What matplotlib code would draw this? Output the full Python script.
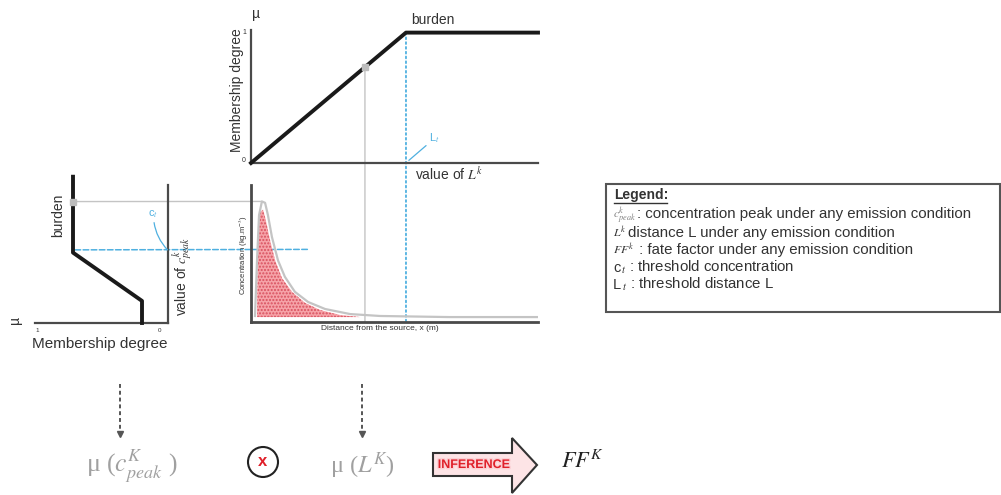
import matplotlib
matplotlib.use("Agg")
import matplotlib.pyplot as plt
import matplotlib.patheffects as pe
from matplotlib.patches import ConnectionPatch, Rectangle, Circle, Polygon

plt.rcParams['font.family'] = ['Liberation Sans', 'DejaVu Sans']
plt.rcParams['mathtext.fontset'] = 'stix'

W, H = 1001, 495

# membership of distance L^k (top chart): x = distance, y = mu
top_x = [0.0, 0.54, 1.0]
top_mu = [0.0, 1.0, 1.0]

# membership of c^k_peak (left chart): x = mu (reversed axis), y = concentration
left_mu = [0.144, 0.144, 0.696, 0.696]
left_c = [0.0, 0.16, 0.51, 1.06]

# concentration vs distance (middle chart)
env_x = [0.014, 0.021, 0.028, 0.038, 0.049, 0.059, 0.073, 0.094, 0.118, 0.153,
         0.199, 0.258, 0.345, 0.449, 0.69, 1.0]
env_c = [0.044, 0.45, 0.78, 0.88, 0.87, 0.78, 0.62, 0.45, 0.33, 0.22,
         0.146, 0.095, 0.058, 0.044, 0.036, 0.036]
fill_x = [0.021, 0.024, 0.031, 0.042, 0.052, 0.066, 0.084, 0.108, 0.143, 0.188,
          0.24, 0.31, 0.38]
fill_c = [0.036, 0.60, 0.80, 0.82, 0.74, 0.60, 0.45, 0.32, 0.22, 0.14,
          0.088, 0.051, 0.036]

L_k, L_t = 0.397, 0.54
c_peak, c_t = 0.88, 0.53
mu_Lk = 0.735

legend_sym = [r'$c^{k}_{peak}$', r'$L^{k}$', r'$FF^{k}$', 'c', 'L']
legend_txt = [': concentration peak under any emission condition',
              'distance L under any emission condition',
              ' : fate factor under any emission condition',
              r'$_{t}$ : threshold concentration',
              r'$_{t}$ : threshold distance L']

fig = plt.figure(figsize=(W / 100, H / 100), dpi=100)
bg = fig.add_axes([0, 0, 1, 1])
bg.set_xlim(0, W)
bg.set_ylim(H, 0)
bg.axis('off')
bg.patch.set_alpha(0)


def px_axes(x0, y0, x1, y1):
    a = fig.add_axes([x0 / W, 1 - y1 / H, (x1 - x0) / W, (y1 - y0) / H])
    a.patch.set_alpha(0)
    a.set_xticks([])
    a.set_yticks([])
    for s in a.spines.values():
        s.set_visible(False)
    return a


axis_col = '#4a4a4a'
blue = '#4fb0e0'
grey = '#c4c4c4'

# top chart
ax_top = px_axes(251, 30, 538, 163)
ax_top.set_xlim(0, 1)
ax_top.set_ylim(0, 1.02)
for s in ('left', 'bottom'):
    ax_top.spines[s].set_visible(True)
    ax_top.spines[s].set_color(axis_col)
    ax_top.spines[s].set_linewidth(1.6)
ax_top.plot(top_x, top_mu, color='#1a1a1a', lw=2.8, zorder=3, clip_on=False)
ax_top.plot([L_k], [mu_Lk], marker='s', ms=5, color='#bdbdbd', zorder=4)

# middle chart
ax_mid = px_axes(251, 185, 538, 322)
ax_mid.set_xlim(0, 1)
ax_mid.set_ylim(0, 1)
for s in ('left', 'bottom'):
    ax_mid.spines[s].set_visible(True)
    ax_mid.spines[s].set_color(axis_col)
    ax_mid.spines[s].set_linewidth(2)
ax_mid.fill_between(fill_x, fill_c, 0.036, facecolor='#f6a3a8', edgecolor='#d8505e',
                    hatch='.....', linewidth=0, zorder=2)
ax_mid.plot(env_x, env_c, color=grey, lw=1.6, zorder=3)

# left chart
ax_left = px_axes(35, 185, 168, 323)
ax_left.set_xlim(1, -0.064)
ax_left.set_ylim(0, 1.0)
for s in ('right', 'bottom'):
    ax_left.spines[s].set_visible(True)
    ax_left.spines[s].set_color(axis_col)
    ax_left.spines[s].set_linewidth(1.6)
ax_left.plot(left_mu, left_c, color='#1a1a1a', lw=2.8, zorder=3, clip_on=False)
ax_left.plot([0.696], [c_peak], marker='s', ms=5, color='#bdbdbd', zorder=4)

# connectors between charts
conns = [
    dict(xyA=(L_k, mu_Lk), axA=ax_top, xyB=(L_k, 0), axB=ax_mid, color=grey, ls='-', lw=1.0),
    dict(xyA=(L_t, 1), axA=ax_top, xyB=(L_t, 0), axB=ax_mid, color=blue, ls=':', lw=1.3),
    dict(xyA=(0.696, c_peak), axA=ax_left, xyB=(0.038, c_peak), axB=ax_mid, color=grey, ls='-', lw=1.0),
    dict(xyA=(0.68, c_t), axA=ax_left, xyB=(0.2, c_t), axB=ax_mid, color=blue, ls='--', lw=1.1),
]
for c in conns:
    cp = ConnectionPatch(xyA=c['xyA'], coordsA=c['axA'].transData,
                         xyB=c['xyB'], coordsB=c['axB'].transData,
                         color=c['color'], ls=c['ls'], lw=c['lw'], zorder=-1)
    fig.add_artist(cp)

# labels, top chart
tc = '#333333'
bg.text(256, 14, 'µ', fontsize=10, color=tc, ha='center', va='center')
bg.text(237, 90, 'Membership degree', fontsize=10, color=tc, rotation=90, ha='center', va='center')
bg.text(244, 32, '1', fontsize=5, color=tc, ha='center', va='center')
bg.text(244, 160, '0', fontsize=5, color=tc, ha='center', va='center')
bg.text(433, 20, 'burden', fontsize=10, color=tc, ha='center', va='center')
bg.text(415, 174, r'value of $L^{k}$', fontsize=10, color=tc, ha='left', va='center')
ax_top.annotate(r'L$_t$', xy=(L_t + 0.01, 0.02), xytext=(20, 15), textcoords='offset pixels',
                color=blue, fontsize=8, ha='left', va='bottom',
                arrowprops=dict(arrowstyle='-', color=blue, lw=0.9, shrinkA=0, shrinkB=0))

# labels, left chart
bg.text(15, 320, 'µ', fontsize=10, color=tc, rotation=90, ha='center', va='center')
bg.text(58, 215, 'burden', fontsize=10, color=tc, rotation=90, ha='center', va='center')
bg.text(100, 344, 'Membership degree', fontsize=11, color=tc, ha='center', va='center')
bg.text(37, 330, '1', fontsize=4.5, color=tc, ha='center', va='center')
bg.text(160, 330, '0', fontsize=4.5, color=tc, ha='center', va='center')
bg.text(183, 276, r'value of $c^{k}_{peak}$', fontsize=10, color=tc, rotation=90, ha='center', va='center')
ax_left.annotate(r'c$_t$', xy=(-0.06, c_t), xytext=(-14, 30), textcoords='offset pixels',
                 color=blue, fontsize=8, ha='center', va='bottom',
                 arrowprops=dict(arrowstyle='-', color=blue, lw=0.9, shrinkA=0, shrinkB=0,
                                 connectionstyle='arc3,rad=0.2'))

# labels, middle chart
bg.text(243, 255, r'Concentration (kg.m$^{-3}$)', fontsize=5.5, color=tc, rotation=90, ha='center', va='center')
bg.text(380, 329, 'Distance from the source, x (m)', fontsize=6, color=tc, ha='center', va='center')

# legend box
bg.add_patch(Rectangle((606, 184), 394, 128, fill=False, edgecolor='#555555', lw=1.5))
bg.text(614, 195, 'Legend:', fontsize=10, fontweight='bold', color=tc, ha='left', va='center')
bg.plot([614, 667], [203, 203], color=tc, lw=1)
fig.canvas.draw()
renderer = fig.canvas.get_renderer()
inv = bg.transData.inverted()
baselines = [218, 237, 254, 272, 289]
for i, (sym, txt) in enumerate(zip(legend_sym, legend_txt)):
    yb = baselines[i]
    math = sym.startswith('$')
    s = bg.text(613, yb, sym, fontsize=8.5 if math else 10.5,
                color='#808080' if i == 0 else tc, ha='left', va='baseline')
    x_end = inv.transform(s.get_window_extent(renderer).p1)[0]
    bg.text(x_end + 1, yb, txt, fontsize=10.8, color=tc, ha='left', va='baseline')

# bottom inference row
for x in (120, 362):
    bg.plot([x, x], [384, 432], color='#555555', lw=1.4, ls=(0, (2, 1.5)))
    bg.plot([x], [434], marker='v', ms=5, color='#555555')

bg.text(132, 466, r'μ ($c^{K}_{peak}$ )', fontsize=18.5, family='Liberation Serif',
        color='#a0a0a0', ha='center', va='center')
bg.add_patch(Circle((263, 462), 15, fill=False, edgecolor='#222222', lw=1.5))
bg.text(263, 462, 'x', fontsize=12, fontweight='bold', color='#e0202a', ha='center', va='center')
bg.text(362, 466, r'μ ($L^{K}$)', fontsize=17.5, family='Liberation Serif',
        color='#a0a0a0', ha='center', va='center')

arrow = Polygon([(433, 453), (512, 453), (512, 438), (537, 465), (512, 493), (512, 476), (433, 476)],
                closed=True, facecolor='#fde4e6', edgecolor='#333333', lw=1.5)
bg.add_patch(arrow)
t = bg.text(474, 465, 'INFERENCE', fontsize=9, fontweight='bold', color='#e0202a', ha='center', va='center')
t.set_path_effects([pe.withStroke(linewidth=2, foreground='#fbd0d4')])
bg.text(582, 462, r'$FF^{K}$', fontsize=16, color='#222222', ha='center', va='center')

fig.savefig('out.png', dpi=100)
